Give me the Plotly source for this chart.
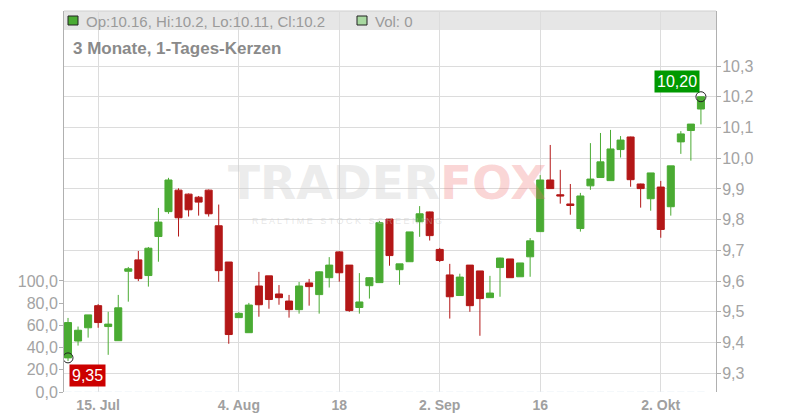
import plotly.graph_objects as go

dates = [
    "2025-07-10", "2025-07-11", "2025-07-14", "2025-07-15", "2025-07-16", "2025-07-17", "2025-07-18",
    "2025-07-21", "2025-07-22", "2025-07-23", "2025-07-24", "2025-07-25", "2025-07-28", "2025-07-29",
    "2025-07-30", "2025-07-31", "2025-08-01", "2025-08-04", "2025-08-05", "2025-08-06", "2025-08-07",
    "2025-08-08", "2025-08-11", "2025-08-12", "2025-08-13", "2025-08-14", "2025-08-15", "2025-08-18",
    "2025-08-19", "2025-08-20", "2025-08-21", "2025-08-22", "2025-08-25", "2025-08-26", "2025-08-27",
    "2025-08-28", "2025-08-29", "2025-09-02", "2025-09-03", "2025-09-04", "2025-09-05", "2025-09-08",
    "2025-09-09", "2025-09-10", "2025-09-11", "2025-09-12", "2025-09-15", "2025-09-16", "2025-09-17",
    "2025-09-18", "2025-09-19", "2025-09-22", "2025-09-23", "2025-09-24", "2025-09-25", "2025-09-26",
    "2025-09-29", "2025-09-30", "2025-10-01", "2025-10-02", "2025-10-03", "2025-10-06", "2025-10-07",
    "2025-10-08",
]

open_ = [9.35, 9.405, 9.448, 9.52, 9.452, 9.406, 9.632, 9.669, 9.618, 9.745, 9.826, 9.896,
         9.883, 9.873, 9.896, 9.78, 9.662, 9.481, 9.432, 9.584, 9.617, 9.558, 9.535, 9.507,
         9.594, 9.556, 9.611, 9.695, 9.652, 9.514, 9.585, 9.595, 9.802, 9.637, 9.663, 9.793,
         9.825, 9.703, 9.62, 9.553, 9.652, 9.633, 9.546, 9.644, 9.672, 9.614, 9.679, 9.761,
         9.929, 9.881, 9.851, 9.771, 9.91, 9.937, 9.927, 10.028, 10.069, 9.916, 9.868, 9.906,
         9.842, 10.053, 10.09, 10.16]
high = [9.48, 9.452, 9.49, 9.525, 9.50, 9.555, 9.646, 9.698, 9.711, 9.838, 9.936, 9.902,
        9.885, 9.877, 9.898, 9.849, 9.662, 9.499, 9.529, 9.63, 9.617, 9.587, 9.555, 9.597,
        9.607, 9.632, 9.678, 9.697, 9.652, 9.626, 9.612, 9.796, 9.802, 9.656, 9.76, 9.844,
        9.826, 9.708, 9.656, 9.624, 9.652, 9.633, 9.617, 9.676, 9.672, 9.659, 9.74, 9.945,
        10.043, 9.962, 9.916, 9.887, 10.049, 10.082, 10.092, 10.072, 10.07, 9.917, 9.952, 9.926,
        9.975, 10.088, 10.111, 10.2]
low = [9.34, 9.39, 9.416, 9.448, 9.36, 9.406, 9.533, 9.60, 9.582, 9.663, 9.819, 9.745,
       9.81, 9.813, 9.81, 9.598, 9.396, 9.481, 9.432, 9.484, 9.51, 9.523, 9.481, 9.494,
       9.52, 9.494, 9.579, 9.598, 9.50, 9.494, 9.543, 9.595, 9.65, 9.588, 9.663, 9.744,
       9.732, 9.662, 9.478, 9.553, 9.50, 9.422, 9.546, 9.549, 9.611, 9.614, 9.614, 9.761,
       9.901, 9.852, 9.816, 9.761, 9.897, 9.937, 9.927, 10.002, 9.907, 9.839, 9.829, 9.741,
       9.813, 10.014, 9.992, 10.11]
close = [9.465, 9.44, 9.49, 9.465, 9.46, 9.513, 9.64, 9.608, 9.707, 9.792, 9.929, 9.806,
         9.832, 9.857, 9.819, 9.634, 9.426, 9.495, 9.522, 9.523, 9.54, 9.546, 9.507, 9.584,
         9.582, 9.63, 9.652, 9.627, 9.504, 9.532, 9.611, 9.79, 9.683, 9.656, 9.76, 9.819,
         9.748, 9.667, 9.549, 9.613, 9.52, 9.543, 9.561, 9.675, 9.611, 9.659, 9.731, 9.929,
         9.901, 9.877, 9.846, 9.877, 9.932, 9.988, 10.03, 10.059, 9.93, 9.901, 9.952, 9.768,
         9.975, 10.079, 10.111, 10.2]
volume = [0] * len(dates)

first_price = 9.35
last_price = 10.20

price_ticks = [9.3, 9.4, 9.5, 9.6, 9.7, 9.8, 9.9, 10.0, 10.1, 10.2, 10.3]
vol_ticks = [0, 20, 40, 60, 80, 100]
x_tick_dates = ["2025-07-15", "2025-08-04", "2025-08-18", "2025-09-02", "2025-09-16", "2025-10-02"]
x_tick_labels = ["15. Jul", "4. Aug", "18", "2. Sep", "16", "2. Okt"]

GREEN = "#4aab33"
RED = "#b31717"
GRID = "#dcdcdc"
AXIS = "#b0b0b0"
TXT = "#a3a3a3"
FONT = "Liberation Sans, Arial, sans-serif"

fig = go.Figure()

fig.add_trace(go.Bar(x=dates, y=volume, yaxis="y2", marker_color="#a8d8a0",
                     hoverinfo="skip", showlegend=False))

fig.add_trace(go.Candlestick(
    x=dates, open=open_, high=high, low=low, close=close,
    increasing=dict(line=dict(color=GREEN, width=1), fillcolor=GREEN),
    decreasing=dict(line=dict(color=RED, width=1), fillcolor=RED),
    whiskerwidth=0, showlegend=False, hoverinfo="skip",
))

fig.add_trace(go.Scatter(
    x=[dates[0], dates[-1]], y=[first_price, last_price], mode="markers",
    marker=dict(symbol="circle-open", size=10, color="#222", line=dict(width=1)),
    showlegend=False, hoverinfo="skip",
))

def fmt(v):
    return f"{v:.2f}".replace(".", ",")

def px_x(px):
    return (px - 64) / 652

def px_y(py):
    return 1 - (py - 11) / 381

annotations = [
    # price labels
    dict(x=dates[0], y=first_price, xref="x", yref="y", text=fmt(first_price),
         showarrow=False, xanchor="left", yanchor="top", xshift=1, yshift=-6,
         bgcolor="#cc0000", font=dict(color="white", size=16, family=FONT),
         borderpad=2),
    dict(x=dates[-1], y=last_price, xref="x", yref="y", text=fmt(last_price),
         showarrow=False, xanchor="right", yanchor="bottom", xshift=-1, yshift=4,
         bgcolor="#009900", font=dict(color="white", size=16, family=FONT),
         borderpad=2),
    # header texts
    dict(x=px_x(84), y=px_y(21), xref="paper", yref="paper",
         text=f"Op:{open_[-1]:.2f}, Hi:{high[-1]:.1f}, Lo:{low[-1]:.2f}, Cl:{close[-1]:.1f}",
         showarrow=False, xanchor="left", yanchor="middle",
         font=dict(color="#9a9a9a", size=15, family=FONT)),
    dict(x=px_x(373), y=px_y(21), xref="paper", yref="paper",
         text=f"Vol: {volume[-1]}",
         showarrow=False, xanchor="left", yanchor="middle",
         font=dict(color="#9a9a9a", size=15, family=FONT)),
    dict(x=px_x(71), y=px_y(48), xref="paper", yref="paper",
         text="<b>3 Monate, 1-Tages-Kerzen</b>",
         showarrow=False, xanchor="left", yanchor="middle",
         font=dict(color="#8a8a8a", size=17, family=FONT)),
    # watermark
    dict(x=px_x(387), y=px_y(212), xref="paper", yref="paper",
         text="<b><span style='color:rgba(205,205,205,0.4)'>TRADER</span>"
              "<span style='color:rgba(240,110,110,0.28)'>FOX</span></b>",
         showarrow=False, xanchor="center", yanchor="bottom",
         font=dict(size=47, family="DejaVu Sans")),
    dict(x=px_x(250), y=px_y(214), xref="paper", yref="paper",
         text="R E A L T I M E   S T O C K   S C R E E N I N G", showarrow=False,
         xanchor="left", yanchor="top",
         font=dict(color="rgba(200,200,200,0.45)", size=9, family=FONT)),
]

shapes = [
    dict(type="rect", xref="paper", yref="paper", x0=0, x1=1,
         y0=px_y(30), y1=1, fillcolor="#e6e6e6", line=dict(width=0), layer="below"),
    dict(type="line", xref="paper", yref="paper", x0=0, x1=1, y0=1, y1=1,
         line=dict(color="#cfcfcf", width=1), layer="below"),
    # legend squares
    dict(type="rect", xref="paper", yref="paper",
         x0=px_x(68), x1=px_x(78), y0=px_y(25), y1=px_y(16),
         fillcolor=GREEN, line=dict(color="#222", width=1)),
    dict(type="rect", xref="paper", yref="paper",
         x0=px_x(357), x1=px_x(367), y0=px_y(25), y1=px_y(16),
         fillcolor="#a8d8a0", line=dict(color="#222", width=1)),
]

fig.update_layout(
    width=800, height=420, autosize=False,
    margin=dict(l=64, r=84, t=11, b=28, pad=0, autoexpand=False),
    paper_bgcolor="white", plot_bgcolor="white",
    separators=",.",
    font=dict(family=FONT, color=TXT),
    showlegend=False,
    bargap=0.3,
    boxgap=0.3, boxgroupgap=0,
    xaxis=dict(
        type="category", range=[-0.4, 64.5],
        tickvals=x_tick_dates, ticktext=x_tick_labels,
        showgrid=True, gridcolor=GRID, gridwidth=1,
        showline=False, zeroline=False, ticks="",
        ticklabelstandoff=3, automargin=False,
        tickfont=dict(size=14, color="#a0a0a0", family=FONT, weight="bold"),
        rangeslider=dict(visible=False), fixedrange=True,
    ),
    yaxis=dict(
        side="right", range=[9.239, 10.479],
        tickvals=price_ticks, tickformat=".1f",
        showgrid=True, gridcolor=GRID, gridwidth=1,
        showline=True, linecolor=AXIS, linewidth=1,
        ticks="outside", ticklen=4, tickcolor=AXIS,
        ticklabelstandoff=-2, automargin=False,
        tickfont=dict(size=16, color=TXT, family=FONT),
        zeroline=False,
    ),
    yaxis2=dict(
        overlaying="y", side="left", range=[0, 343],
        tickvals=vol_ticks, tickformat=".1f",
        showgrid=False, showline=True, linecolor=AXIS, linewidth=1,
        ticks="outside", ticklen=4, tickcolor=AXIS,
        ticklabelstandoff=-2, automargin=False,
        tickfont=dict(size=16, color=TXT, family=FONT),
        zeroline=False,
    ),
    annotations=annotations,
    shapes=shapes,
)

fig.write_html("out.html", config={"displayModeBar": False},
               post_script="document.body.style.margin='0';document.body.style.overflow='hidden';")
